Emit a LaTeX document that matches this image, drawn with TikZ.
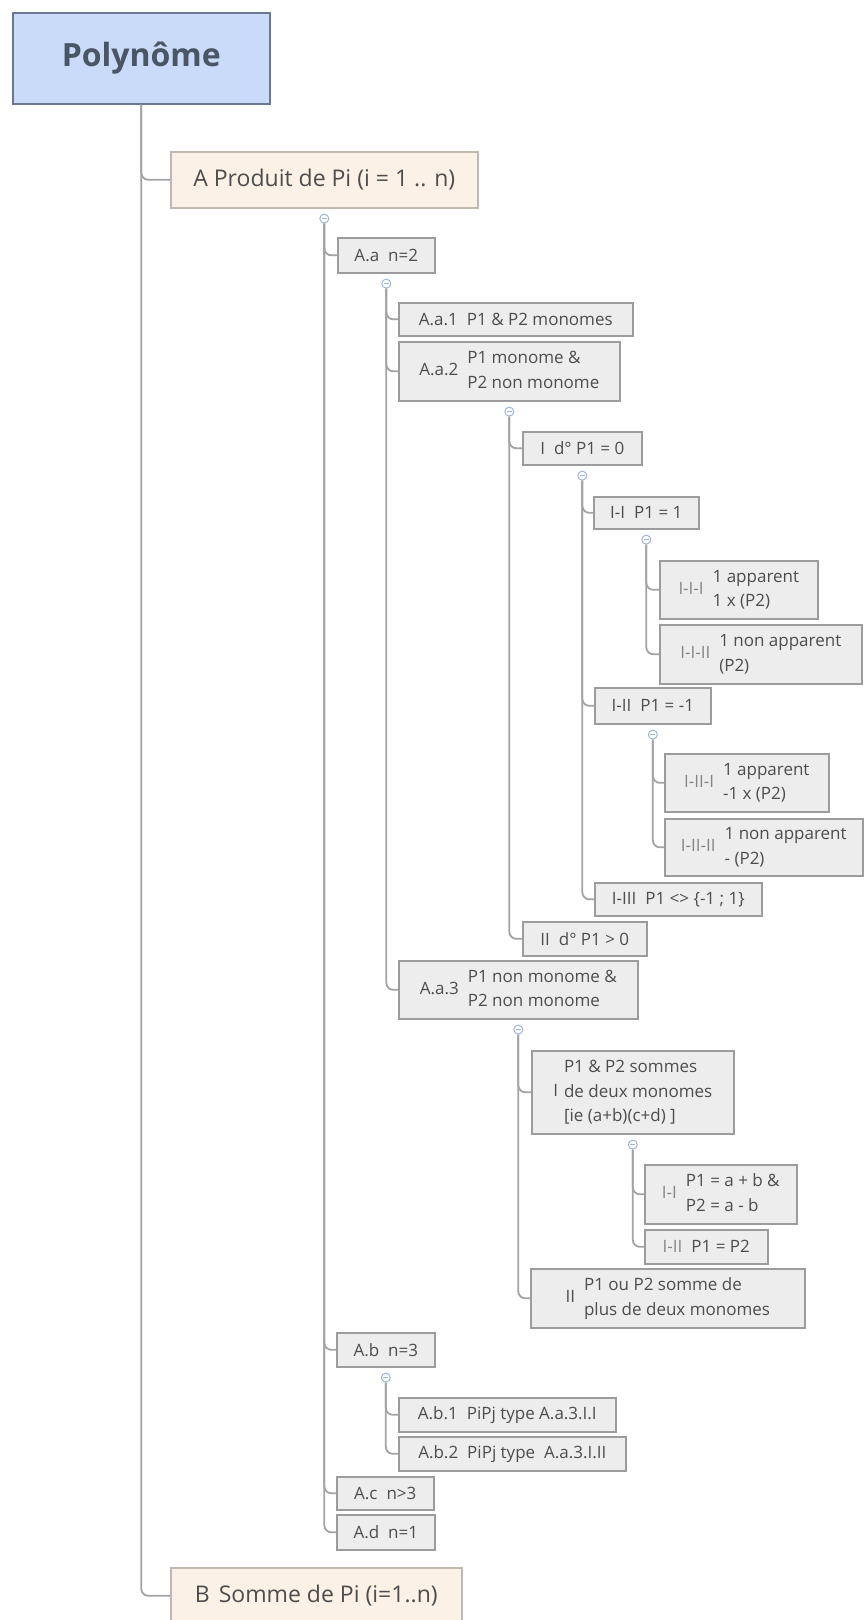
\documentclass[tikz,border=0pt]{standalone}
\usepackage{fontspec}
\setmainfont{Open Sans}
\usetikzlibrary{positioning}

\definecolor{rootfill}{HTML}{C9DBF8}
\definecolor{rootline}{HTML}{6A7890}
\definecolor{roottext}{HTML}{4A5566}
\definecolor{topicfill}{HTML}{FCF1E7}
\definecolor{topicline}{HTML}{BFB8B1}
\definecolor{subfill}{HTML}{EDEDED}
\definecolor{subline}{HTML}{9C9C9C}
\definecolor{linkgray}{HTML}{A3A3A3}
\definecolor{foldblue}{HTML}{9FB6DA}
\definecolor{txtgray}{HTML}{4D4D4D}
\definecolor{lblgray}{HTML}{858585}

\newcommand{\txtlines}[1]{{\renewcommand{\arraystretch}{1.22}\begin{tabular}{@{}l@{}}#1\end{tabular}}}
\newcommand{\lblgap}{\hspace{9pt}}

\begin{document}
\begin{tikzpicture}[x=1pt, y=-1pt,
  every node/.style={font=\fontsize{17}{20}\selectfont, text=txtgray},
  root/.style={draw=rootline, line width=1.6pt, fill=rootfill, anchor=north west,
    font=\fontsize{32}{38}\selectfont\bfseries, text=roottext},
  topic/.style={draw=topicline, line width=1.6pt, fill=topicfill, anchor=north west,
    font=\fontsize{23}{28}\selectfont},
  sub/.style={draw=subline, line width=1.6pt, fill=subfill, anchor=north west, inner sep=0pt},
  link/.style={draw=linkgray, line width=1.8pt, rounded corners=7pt},
  fold/.style={circle, draw=foldblue, fill=white, line width=1pt, minimum size=9pt,
    inner sep=0pt, below=5pt of #1,
    path picture={\draw[foldblue, line width=0.8pt]
      ([xshift=-2.5pt]path picture bounding box.center) --
      ([xshift=2.5pt]path picture bounding box.center);}}]
  \useasboundingbox (0,0) rectangle (863,1620);

  % Central topic
  \node[root, minimum width=257pt, minimum height=91pt] (root) at (12,12) {Polynôme};

  % Main branches
  \node[topic, minimum width=307pt, minimum height=56pt] (A) at (170,151)
    {A Produit de Pi (i = 1 .. n)};
  \node[topic, minimum width=291pt, minimum height=56pt] (B) at (170,1567)
    {B\lblgap Somme de Pi (i=1..n)};

  % A.a n=2
  \node[sub, minimum width=97pt, minimum height=35pt] (Aa) at (337,237) {A.a\lblgap n=2};
  \node[sub, minimum width=234pt, minimum height=33pt] (Aa1) at (398,302)
    {A.a.1\lblgap P1 \& P2 monomes};
  \node[sub, minimum width=221pt, minimum height=59pt] (Aa2) at (398,341)
    {A.a.2\lblgap\txtlines{P1 monome \&\\P2 non monome}};

  % A.a.2 subtree
  \node[sub, minimum width=119pt, minimum height=33pt] (dI) at (522,431) {I\lblgap d° P1 = 0};
  \node[sub, minimum width=105pt, minimum height=32pt] (dI1) at (593,496) {I-I\lblgap P1 = 1};
  \node[sub, minimum width=158pt, minimum height=58pt] (dI11) at (659,560)
    {\textcolor{lblgray}{I-I-I}\lblgap\txtlines{1 apparent\\1 x (P2)}};
  \node[sub, minimum width=202pt, minimum height=59pt] (dI12) at (659,624)
    {\textcolor{lblgray}{I-I-II}\lblgap\txtlines{1 non apparent\\(P2)}};
  \node[sub, minimum width=116pt, minimum height=36pt] (dI2) at (594,687) {I-II\lblgap P1 = -1};
  \node[sub, minimum width=164pt, minimum height=58pt] (dI21) at (664,753)
    {\textcolor{lblgray}{I-II-I}\lblgap\txtlines{1 apparent\\-1 x (P2)}};
  \node[sub, minimum width=198pt, minimum height=57pt] (dI22) at (664,818)
    {\textcolor{lblgray}{I-II-II}\lblgap\txtlines{1 non apparent\\- (P2)}};
  \node[sub, minimum width=167pt, minimum height=33pt] (dI3) at (594,882)
    {I-III\lblgap P1 <> \{-1 ; 1\}};
  \node[sub, minimum width=124pt, minimum height=34pt] (dII) at (522,921) {II\lblgap d° P1 > 0};

  % A.a.3 subtree
  \node[sub, minimum width=239pt, minimum height=58pt] (Aa3) at (398,960)
    {A.a.3\lblgap\txtlines{P1 non monome \&\\P2 non monome}};
  \node[sub, minimum width=202pt, minimum height=83pt] (sI) at (531,1050)
    {I\hspace{6pt}\txtlines{P1 \& P2 sommes\\de deux monomes\\{}[ie (a+b)(c+d) ]}};
  \node[sub, minimum width=152pt, minimum height=59pt] (sI1) at (644,1164)
    {\textcolor{lblgray}{I-I}\lblgap\txtlines{P1 = a + b \&\\P2 = a - b}};
  \node[sub, minimum width=123pt, minimum height=34pt] (sI2) at (644,1229)
    {\textcolor{lblgray}{I-II}\lblgap P1 = P2};
  \node[sub, minimum width=274pt, minimum height=59pt] (sII) at (530,1268)
    {II\lblgap\txtlines{P1 ou P2 somme de\\plus de deux monomes}};

  % A.b, A.c, A.d
  \node[sub, minimum width=98pt, minimum height=34pt] (Ab) at (336,1332) {A.b\lblgap n=3};
  \node[sub, minimum width=217pt, minimum height=34pt] (Ab1) at (398,1397)
    {A.b.1\lblgap PiPj type A.a.3.I.I};
  \node[sub, minimum width=227pt, minimum height=34pt] (Ab2) at (398,1436)
    {A.b.2\lblgap PiPj type~~A.a.3.I.II};
  \node[sub, minimum width=97pt, minimum height=33pt] (Ac) at (336,1476) {A.c\lblgap n>3};
  \node[sub, minimum width=98pt, minimum height=35pt] (Ad) at (336,1514) {A.d\lblgap n=1};

  % Fold markers
  \node[fold=A] (fA) {};
  \node[fold=Aa] (fAa) {};
  \node[fold=Aa2] (fAa2) {};
  \node[fold=dI] (fdI) {};
  \node[fold=dI1] (fdI1) {};
  \node[fold=dI2] (fdI2) {};
  \node[fold=Aa3] (fAa3) {};
  \node[fold=sI] (fsI) {};
  \node[fold=Ab] (fAb) {};

  % Root trunk
  \draw[link] (root.south) |- (A.west);
  \draw[link] (root.south) |- (B.west);
  % A trunk
  \draw[link] (fA.south) |- (Aa.west);
  \draw[link] (fA.south) |- (Ab.west);
  \draw[link] (fA.south) |- (Ac.west);
  \draw[link] (fA.south) |- (Ad.west);
  % A.a trunk
  \draw[link] (fAa.south) |- (Aa1.west);
  \draw[link] (fAa.south) |- (Aa2.west);
  \draw[link] (fAa.south) |- (Aa3.west);
  % A.a.2 trunk
  \draw[link] (fAa2.south) |- (dI.west);
  \draw[link] (fAa2.south) |- (dII.west);
  \draw[link] (fdI.south) |- (dI1.west);
  \draw[link] (fdI.south) |- (dI2.west);
  \draw[link] (fdI.south) |- (dI3.west);
  \draw[link] (fdI1.south) |- (dI11.west);
  \draw[link] (fdI1.south) |- (dI12.west);
  \draw[link] (fdI2.south) |- (dI21.west);
  \draw[link] (fdI2.south) |- (dI22.west);
  % A.a.3 trunk
  \draw[link] (fAa3.south) |- (sI.west);
  \draw[link] (fAa3.south) |- (sII.west);
  \draw[link] (fsI.south) |- (sI1.west);
  \draw[link] (fsI.south) |- (sI2.west);
  % A.b trunk
  \draw[link] (fAb.south) |- (Ab1.west);
  \draw[link] (fAb.south) |- (Ab2.west);
\end{tikzpicture}
\end{document}
